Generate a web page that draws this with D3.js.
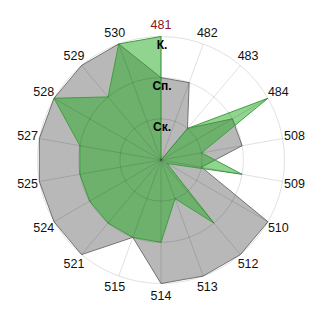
<!DOCTYPE html>
<html>
<head>
<meta charset="utf-8">
<script src="https://cdn.jsdelivr.net/npm/d3@7"></script>
<style>
html,body{margin:0;padding:0;background:#fff;}
svg{display:block;}
</style>
</head>
<body>
<svg id="chart" width="320" height="320"></svg>
<script>
const categories = ["481","482","483","484","508","509","510","512","513","514","515","521","524","525","527","528","529","530"];
const normValues = [2,2,1,2,2,1,3,3,3,3,2,3,3,3,3,3,3,3];
const actualValues = [3,0,1,3,1,2,0.17,2,1,2,2,2,2,2,2,3,2,3];
const levelValues = [1,2,3];
const levelLabels = ["Ск.","Сп.","К."];
const highlightCategory = "481";

const W = 320, H = 320, cx = 161, cy = 160, R = 123.5;
const svg = d3.select("#chart");
const g = svg.append("g").attr("transform", `translate(${cx},${cy})`);

const angle = d3.scaleBand().domain(categories).range([0, 2 * Math.PI]).paddingInner(0).paddingOuter(0);
const r = d3.scaleLinear().domain([0, 3]).range([0, R]);

const radial = d3.lineRadial()
  .angle(d => angle(d.c))
  .radius(d => r(d.v))
  .curve(d3.curveLinearClosed);

const normData = categories.map((c, i) => ({c, v: normValues[i]}));
const actData = categories.map((c, i) => ({c, v: actualValues[i]}));

g.append("path").attr("d", radial(normData))
  .attr("fill", "#b8b8b8").attr("stroke", "#737373").attr("stroke-width", 1);
g.append("path").attr("d", radial(actData))
  .attr("fill", "rgba(34,170,34,0.5)").attr("stroke", "#3f9f3f").attr("stroke-width", 1);

// grid on top
const grid = g.append("g").attr("fill", "none").attr("stroke", "rgba(0,0,0,0.12)").attr("stroke-width", 1);
levelValues.forEach(l => grid.append("circle").attr("r", r(l)));
categories.forEach(c => {
  const a = angle(c);
  grid.append("line").attr("x1", 0).attr("y1", 0)
    .attr("x2", Math.sin(a) * R).attr("y2", -Math.cos(a) * R);
});

// category labels
const labR = R + 12;
g.selectAll("text.cat").data(categories).join("text")
  .attr("class", "cat")
  .attr("x", c => Math.sin(angle(c)) * labR)
  .attr("y", c => -Math.cos(angle(c)) * labR)
  .attr("text-anchor", "middle")
  .attr("dominant-baseline", "central")
  .attr("font-family", "Liberation Sans, Arial, sans-serif")
  .attr("font-size", 12.5)
  .attr("fill", c => c === highlightCategory ? "#8b1414" : "#111")
  .text(c => c);

// level labels
g.selectAll("text.lvl").data(levelValues).join("text")
  .attr("class", "lvl")
  .attr("x", 1)
  .attr("y", l => -r(l) + 12)
  .attr("text-anchor", "middle")
  .attr("font-family", "Liberation Sans, Arial, sans-serif")
  .attr("font-weight", "bold")
  .attr("font-size", 12)
  .attr("fill", "#000")
  .text((l, i) => levelLabels[i]);
</script>
</body>
</html>
